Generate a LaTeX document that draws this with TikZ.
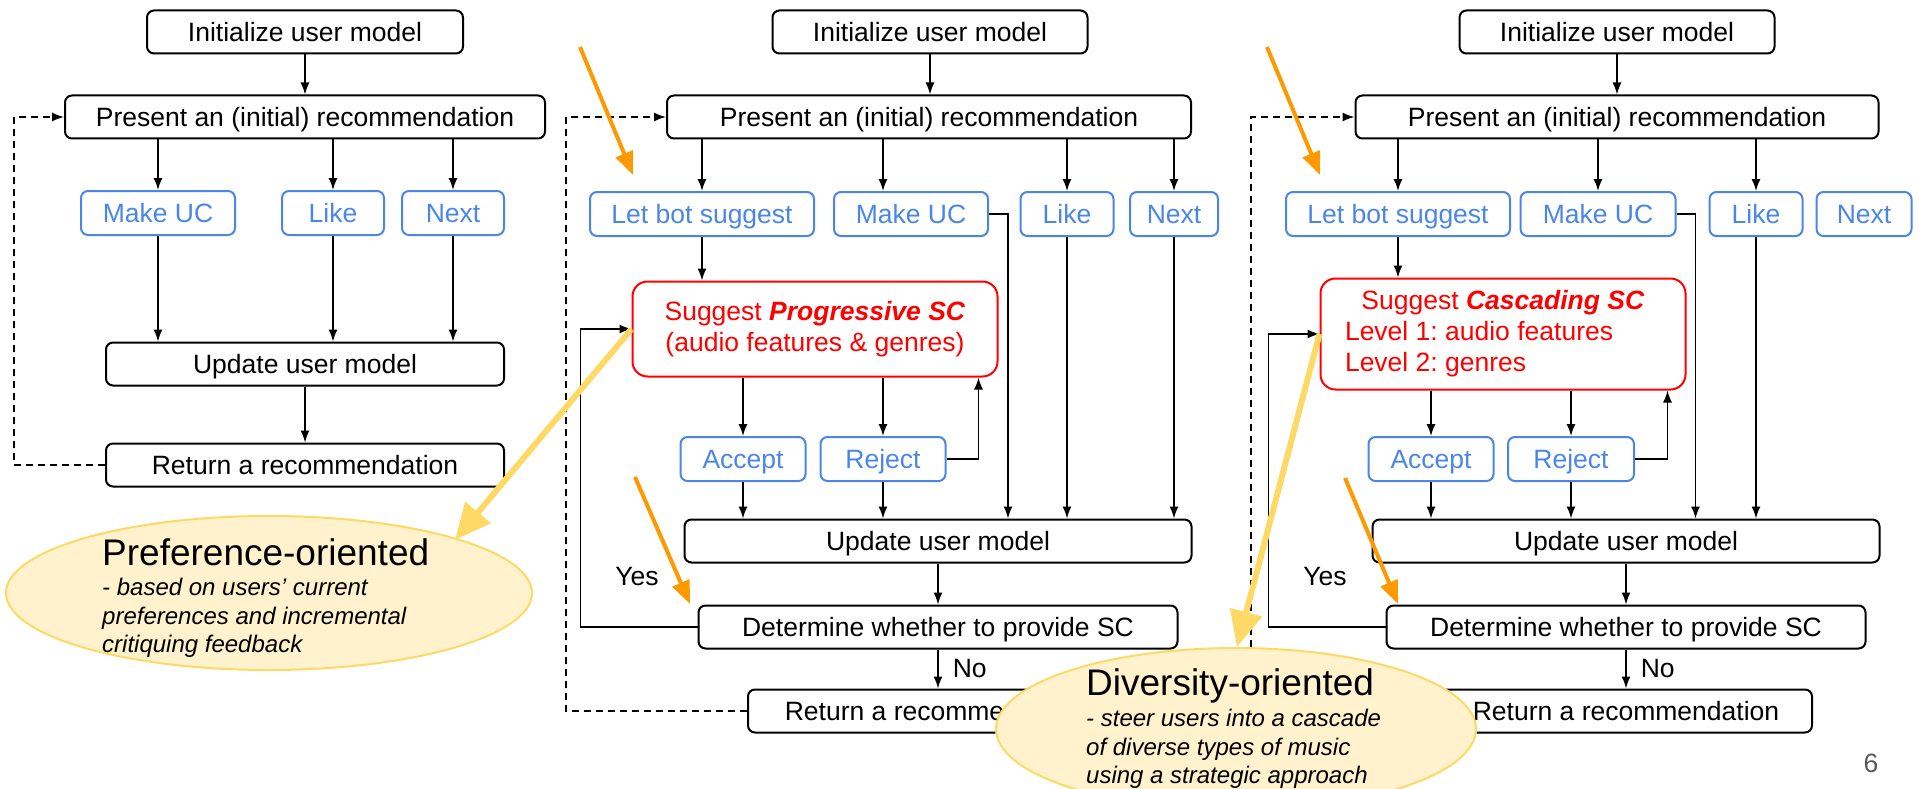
\documentclass[tikz,border=0pt]{standalone}
\usepackage{fontspec}
\setmainfont{Liberation Sans}
\usetikzlibrary{arrows.meta,positioning,shapes.geometric}
\frenchspacing

\definecolor{gblue}{HTML}{4A86E8}
\definecolor{gred}{HTML}{FF0000}
\definecolor{gorange}{HTML}{FF9900}
\definecolor{gyellow}{HTML}{FFD966}
\definecolor{gcream}{HTML}{FFF2CC}
\definecolor{pagegray}{HTML}{595959}

\tikzset{
  basebox/.style={draw=black,line width=2pt,rounded corners=7pt,minimum height=43pt,inner sep=0pt,font=\fontsize{26.5}{31}\selectfont},
  stepbox/.style={basebox,text height=20pt,text depth=1pt},
  actbox/.style={stepbox,draw=gblue,text=gblue,minimum height=44pt},
  scbox/.style={basebox,draw=gred,text=gred,rounded corners=15pt,align=center},
  lbl/.style={inner sep=0pt,font=\fontsize{26.5}{31}\selectfont},
  flow/.style={-{Latex[length=12pt,width=9pt]},line width=1.5pt},
  back/.style={flow,dash pattern=on 7pt off 5pt},
  hint/.style={-{Triangle[length=23pt,width=18pt]},draw=gorange,line width=4pt},
  callout/.style={-{Triangle[length=36pt,width=32pt]},draw=gyellow,line width=6pt},
  bubble/.style={ellipse,draw=gyellow,fill=gcream,line width=2pt,inner sep=0pt},
}

\begin{document}
\begin{tikzpicture}[x=1pt,y=-1pt,>=Latex]
\useasboundingbox (0,0) rectangle (1919,789);

\node[stepbox,minimum width=316pt] (p1_init) at (305,32) {Initialize user model};
\node[stepbox,minimum width=480pt] (p1_pres) at (305,117) {Present an (initial) recommendation};
\node[actbox,minimum width=154pt] (p1_uc) at (158,213) {Make UC};
\node[actbox,minimum width=102pt] (p1_like) at (333,213) {Like};
\node[actbox,minimum width=102pt] (p1_next) at (453,213) {Next};
\node[stepbox,minimum width=398pt] (p1_upd) at (305,364) {Update user model};
\node[stepbox,minimum width=398pt] (p1_ret) at (305,465) {Return a recommendation};
\draw[flow] (p1_init) -- (p1_pres);
\foreach \n in {uc,like,next} {
  \draw[flow] (p1_pres.south -| p1_\n) -- (p1_\n);
  \draw[flow] (p1_\n) -- (p1_upd.north -| p1_\n);
}
\draw[flow] (p1_upd) -- (p1_ret);
\draw[back] (p1_ret.west) -- ++(-91,0) |- (p1_pres.west);

\node[stepbox,minimum width=315pt] (p2_init) at (930,32) {Initialize user model};
\node[stepbox,minimum width=524pt] (p2_pres) at (929,117) {Present an (initial) recommendation};
\node[actbox,minimum width=224pt] (p2_bot) at (702,214) {Let bot suggest};
\node[actbox,minimum width=154pt] (p2_uc) at (911,214) {Make UC};
\node[actbox,minimum width=93pt] (p2_like) at (1067,214) {Like};
\node[actbox,minimum width=88pt] (p2_next) at (1174,214) {Next};
\node[scbox,minimum width=365pt,minimum height=95pt] (p2_sc) at (815,329) {Suggest \textbf{\textit{Progressive SC}}\\(audio features \& genres)};
\node[actbox,minimum width=125pt] (p2_acc) at (743,459) {Accept};
\node[actbox,minimum width=125pt] (p2_rej) at (883,459) {Reject};
\node[stepbox,minimum width=507pt] (p2_upd) at (938,541) {Update user model};
\node[stepbox,minimum width=479pt] (p2_det) at (938,627) {Determine whether to provide SC};
\node[stepbox,minimum width=380pt] (p2_ret) at (938,711) {Return a recommendation};
\node[lbl] (p2_yes) at (637,577) {Yes};
\draw[flow] (p2_init) -- (p2_init |- p2_pres.north);
\draw[flow] (p2_pres.south -| p2_bot) -- (p2_bot);
\draw[flow] ([xshift=-28pt]p2_uc.north |- p2_pres.south) -- ([xshift=-28pt]p2_uc.north);
\foreach \n in {like,next} {
  \draw[flow] (p2_pres.south -| p2_\n) -- (p2_\n);
  \draw[flow] (p2_\n) -- (p2_upd.north -| p2_\n);
}
\draw[flow] (p2_bot) -- (p2_bot |- p2_sc.north);
\foreach \n in {acc,rej} {
  \draw[flow] (p2_sc.south -| p2_\n) -- (p2_\n);
  \draw[flow] (p2_\n) -- (p2_upd.north -| p2_\n);
}
\draw[flow] (p2_rej.east) -| ([xshift=-20pt]p2_sc.south east);
\draw[flow] (p2_uc.east) -| ([xshift=19pt]p2_uc.east |- p2_upd.north);
\draw[flow] (p2_upd) -- (p2_det);
\draw[flow] (p2_det) -- node[lbl,right=14pt] (p2_no) {No} (p2_ret);
\draw[flow] (p2_det.west) -- ++(-117,0) |- (p2_sc.west);
\draw[back] (p2_ret.west) -- ++(-181,0) |- (p2_pres.west);

\node[stepbox,minimum width=315pt] (p3_init) at (1617,32) {Initialize user model};
\node[stepbox,minimum width=523pt] (p3_pres) at (1617,117) {Present an (initial) recommendation};
\node[actbox,minimum width=224pt] (p3_bot) at (1398,214) {Let bot suggest};
\node[actbox,minimum width=155pt] (p3_uc) at (1598,214) {Make UC};
\node[actbox,minimum width=93pt] (p3_like) at (1756,214) {Like};
\node[actbox,minimum width=95pt] (p3_next) at (1864,214) {Next};
\node[scbox,minimum width=365pt,minimum height=111pt] (p3_sc) at (1503,334) {Suggest \textbf{\textit{Cascading SC}}\\\makebox[316pt][l]{Level 1: audio features}\\\makebox[316pt][l]{Level 2: genres}};
\node[actbox,minimum width=125pt] (p3_acc) at (1431,459) {Accept};
\node[actbox,minimum width=126pt] (p3_rej) at (1571,459) {Reject};
\node[stepbox,minimum width=507pt] (p3_upd) at (1626,541) {Update user model};
\node[stepbox,minimum width=479pt] (p3_det) at (1626,627) {Determine whether to provide SC};
\node[stepbox,minimum width=372pt] (p3_ret) at (1626,711) {Return a recommendation};
\node[lbl] (p3_yes) at (1325,577) {Yes};
\draw[flow] (p3_init) -- (p3_pres);
\foreach \n in {bot,uc,like} \draw[flow] (p3_pres.south -| p3_\n) -- (p3_\n);
\draw[flow] (p3_like) -- (p3_like |- p3_upd.north);
\draw[flow] (p3_bot) -- (p3_bot |- p3_sc.north);
\foreach \n in {acc,rej} {
  \draw[flow] (p3_sc.south -| p3_\n) -- (p3_\n);
  \draw[flow] (p3_\n) -- (p3_upd.north -| p3_\n);
}
\draw[flow] (p3_rej.east) -| ([xshift=-19pt]p3_sc.south east);
\draw[flow] (p3_uc.east) -| ([xshift=19pt]p3_uc.east |- p3_upd.north);
\draw[flow] (p3_upd) -- (p3_det);
\draw[flow] (p3_det) -- node[lbl,right=14pt] (p3_no) {No} (p3_ret);
\draw[flow] (p3_det.west) -- ++(-117,0) |- (p3_sc.west);
\draw[back] (p3_ret.west) -- ++(-188,0) |- (p3_pres.west);

\coordinate (p2_h1a) at (580,47);
\coordinate (p2_h1b) at (633,175);
\coordinate (p2_h2a) at (635,477);
\coordinate (p2_h2b) at (690,604);
\coordinate (p3_h1a) at (1267,47);
\coordinate (p3_h1b) at (1320,175);
\coordinate (p3_h2a) at (1345,478);
\coordinate (p3_h2b) at (1398,604);
\foreach \a/\b in {p2_h1a/p2_h1b,p2_h2a/p2_h2b,p3_h1a/p3_h1b,p3_h2a/p3_h2b}
  \draw[hint] (\a) -- (\b);

\node[bubble,minimum width=526pt,minimum height=154pt] (pref) at (269,593) {};
\node[lbl,anchor=base west,font=\fontsize{37}{40}\selectfont] (pref_title) at (102,565) {Preference-oriented};
\node[lbl,anchor=north west,align=left,font=\fontsize{24}{28.5}\selectfont\itshape] (pref_text) at (102,578) {- based on users' current\\preferences and incremental\\critiquing feedback};
\node[bubble,minimum width=480pt,minimum height=162pt] (div) at (1236,729) {};
\node[lbl,anchor=base west,font=\fontsize{37}{40}\selectfont] (div_title) at (1086,695) {Diversity-oriented};
\node[lbl,anchor=north west,align=left,font=\fontsize{24}{28.5}\selectfont\itshape] (div_text) at (1086,709) {- steer users into a cascade\\of diverse types of music\\using a strategic approach};

\coordinate (pref_tip) at (455,540);
\coordinate (div_tip) at (1237,647);
\draw[callout] (p2_sc.west) -- (pref_tip);
\draw[callout] (p3_sc.west) -- (div_tip);

\node[lbl,text=pagegray] (page_no) at (1871,763) {6};
\end{tikzpicture}
\end{document}
